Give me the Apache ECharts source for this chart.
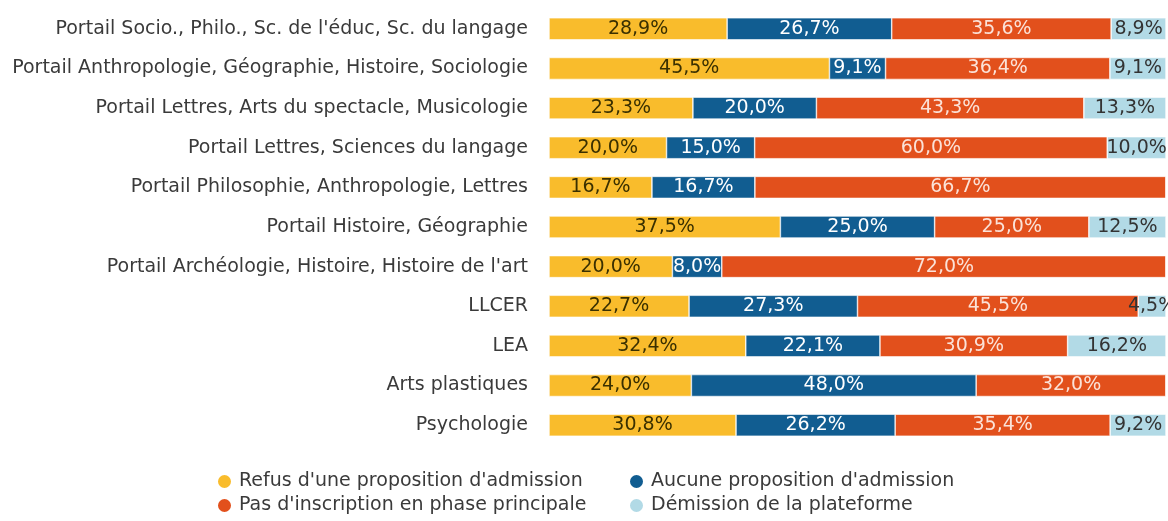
<!DOCTYPE html>
<html>
<head>
<meta charset="utf-8">
<script src="https://cdn.jsdelivr.net/npm/echarts@6/dist/echarts.min.js"></script>
<style>html,body{margin:0;padding:0;background:#fff;}#chart{width:1168px;height:521px;}</style>
</head>
<body>
<div id="chart"></div>
<script>
const categories = [
  "Portail Socio., Philo., Sc. de l'éduc, Sc. du langage",
  "Portail Anthropologie, Géographie, Histoire, Sociologie",
  "Portail Lettres, Arts du spectacle, Musicologie",
  "Portail Lettres, Sciences du langage",
  "Portail Philosophie, Anthropologie, Lettres",
  "Portail Histoire, Géographie",
  "Portail Archéologie, Histoire, Histoire de l'art",
  "LLCER",
  "LEA",
  "Arts plastiques",
  "Psychologie"
];
const seriesNames = [
  "Refus d'une proposition d'admission",
  "Aucune proposition d'admission",
  "Pas d'inscription en phase principale",
  "Démission de la plateforme"
];
const refus = [28.9, 45.5, 23.3, 20.0, 16.7, 37.5, 20.0, 22.7, 32.4, 24.0, 30.8];
const aucune = [26.7, 9.1, 20.0, 15.0, 16.7, 25.0, 8.0, 27.3, 22.1, 48.0, 26.2];
const pasInscription = [35.6, 36.4, 43.3, 60.0, 66.7, 25.0, 72.0, 45.5, 30.9, 32.0, 35.4];
const demission = [8.9, 9.1, 13.3, 10.0, 0, 12.5, 0, 4.5, 16.2, 0, 9.2];

const colors = ['#F9BC2C', '#115D91', '#E2501C', '#B2DAE6'];
const labelColors = ['#3a3000', '#ffffff', '#fbe2d8', '#333333'];
const allSeries = [refus, aucune, pasInscription, demission];
const totals = categories.map((c, i) => allSeries.reduce((s, arr) => s + arr[i], 0));

const FONT = 'DejaVu Sans';
const FS = 19;

const series = allSeries.map((arr, si) => ({
  name: seriesNames[si],
  type: 'bar',
  stack: 'total',
  barWidth: 22,
  itemStyle: { color: colors[si], borderColor: '#fff', borderWidth: 0.6 },
  label: {
    show: true,
    position: 'inside',
    color: labelColors[si],
    fontFamily: FONT,
    fontSize: FS,
    formatter: p => p.data.raw ? p.data.raw.toFixed(1).replace('.', ',') + '%' : ''
  },
  data: arr.map((v, i) => ({ value: v / totals[i] * 100, raw: v }))
}));

function legendAt(name, left, top) {
  return {
    left: left, top: top, padding: 0,
    icon: 'circle', itemWidth: 15, itemHeight: 15, itemGap: 0,
    textStyle: { color: '#3a3a3a', fontFamily: FONT, fontSize: FS, padding: [0, 0, 0, 2] },
    data: [name]
  };
}

const chart = echarts.init(document.getElementById('chart'), null, { renderer: 'canvas' });
chart.setOption({
  animation: false,
  textStyle: { fontFamily: FONT },
  grid: { left: 549, right: 2, top: 9, bottom: 76, containLabel: false },
  xAxis: { type: 'value', min: 0, max: 100, show: false },
  yAxis: {
    type: 'category',
    data: categories,
    inverse: true,
    axisLine: { show: false },
    axisTick: { show: false },
    axisLabel: { color: '#3a3a3a', fontFamily: FONT, fontSize: FS, margin: 21 }
  },
  legend: [
    legendAt(seriesNames[0], 216, 472),
    legendAt(seriesNames[2], 216, 496),
    legendAt(seriesNames[1], 628, 472),
    legendAt(seriesNames[3], 628, 496)
  ],
  series: series
});
</script>
</body>
</html>
